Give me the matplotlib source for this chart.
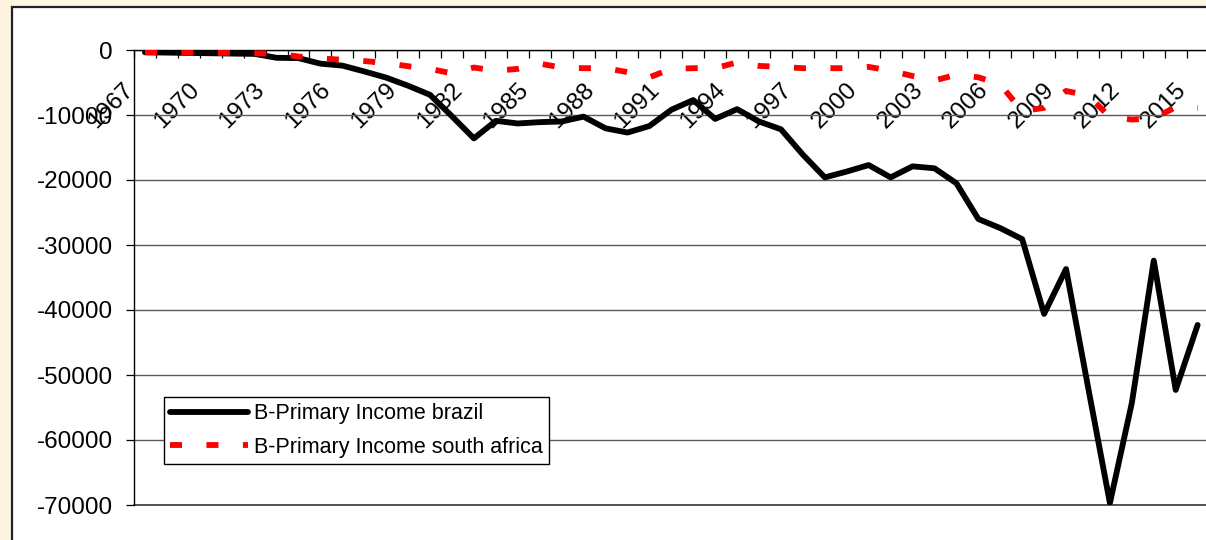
import matplotlib
matplotlib.use("Agg")
import matplotlib.pyplot as plt
from matplotlib.patches import Rectangle
from matplotlib.transforms import ScaledTranslation
import numpy as np

plt.rcParams['font.family'] = ['Liberation Sans', 'DejaVu Sans']

# ---------------- data ----------------
years = list(range(1967, 2016))

brazil = [
    -350, -400, -450, -500, -550, -600, -1200, -1250, -2100, -2400,
    -3300, -4250, -5500, -6900, -10200, -13600, -10900, -11300, -11100, -11000,
    -10250, -12050, -12700, -11700, -9200, -7700, -10600, -9100, -11000, -12200,
    -16100, -19600, -18700, -17700, -19600, -17900, -18200, -20500, -26000, -27400,
    -29100, -40600, -33700, -51800, -69700, -54300, -32400, -52300, -42300,
]

south_africa = [
    -350, -400, -400, -450, -450, -500, -550, -1000, -1300, -1500,
    -1700, -2000, -2500, -2900, -3600, -2700, -3200, -2900, -2100, -2700,
    -2800, -2800, -3400, -4200, -2900, -2800, -2800, -1900, -2450, -2600,
    -2800, -2800, -2800, -2600, -3200, -4000, -4700, -3800, -4200, -5300,
    -9400, -8900, -6300, -7000, -10300, -10700, -10500, -8800, -8900,
]

y_ticks = [0, -10000, -20000, -30000, -40000, -50000, -60000, -70000]
label_years = years[::3]

series_names = ['B-Primary Income brazil', 'B-Primary Income south africa']

# ---------------- figure ----------------
W, H = 1206, 540
fig = plt.figure(figsize=(W / 100, H / 100), dpi=100)
fig.patch.set_facecolor('#fdf5e2')

# white chart area with dark border (extends past right/bottom edges)
chart_rect = Rectangle((11.5 / W, -0.05), 1.2, (1 - 7.3 / H) + 0.05,
                       transform=fig.transFigure, facecolor='white',
                       edgecolor='#222222', lw=1.6, zorder=-10)
fig.add_artist(chart_rect)

ax = fig.add_axes([134 / W, 1 - 505 / H, (1208.6 - 134) / W, (505 - 50) / H])
ax.set_zorder(5)
ax.patch.set_alpha(0)

LW = 4.2
x = np.arange(len(years))
ax.plot(x, brazil, color='black', lw=LW, solid_joinstyle='round',
        solid_capstyle='round', label=series_names[0], zorder=3)
ax.plot(x, south_africa, color='#ff0000', lw=LW, dashes=(8.64 / LW, 17.6 / LW),
        dash_capstyle='butt', dash_joinstyle='round',
        label=series_names[1], zorder=4)

ax.set_xlim(-0.5, len(years) - 0.5)
ax.set_ylim(-70000, 0)

ax.set_yticks(y_ticks)
ax.set_yticklabels([str(v) for v in y_ticks])
ax.yaxis.grid(True, color='#5a5a5a', lw=1.0)
ax.axhline(y_ticks[-1], color='#3a3a3a', lw=1.2, clip_on=False, zorder=1)
ax.set_axisbelow(True)

ax.spines['bottom'].set_position(('data', 0))
ax.spines['bottom'].set_color('black')
ax.spines['bottom'].set_linewidth(1.0)
ax.spines['left'].set_color('black')
ax.spines['left'].set_linewidth(1.0)
ax.spines['top'].set_visible(False)
ax.spines['right'].set_visible(False)

ax.set_xticks([years.index(yy) for yy in label_years])
ax.set_xticklabels([str(yy) for yy in label_years])
ax.set_xticks(np.arange(len(years) + 1) - 0.5, minor=True)

ax.tick_params(axis='x', which='major', length=0, pad=29.5, labelsize=17.5)
ax.tick_params(axis='x', which='minor', length=5.8, width=0.9,
               direction='out', color='black')
ax.tick_params(axis='y', which='major', length=5.8, width=0.9,
               direction='out', color='black', pad=9.4, labelsize=17.5)

shift = ScaledTranslation(-10.8 / 100, 0, fig.dpi_scale_trans)
for lab in ax.get_xticklabels():
    lab.set_rotation(45)
    lab.set_ha('right')
    lab.set_va('baseline')
    lab.set_rotation_mode('anchor')
    lab.set_transform(lab.get_transform() + shift)

leg = ax.legend(loc='upper left', bbox_to_anchor=(164 / W, 1 - 397 / H),
                bbox_transform=fig.transFigure, borderaxespad=0,
                frameon=True, fancybox=False, edgecolor='black',
                framealpha=1, prop={'size': 15.5},
                handlelength=3.58, handletextpad=0.28, borderpad=0.3,
                labelspacing=0.58)
leg.get_frame().set_linewidth(1.0)

fig.savefig('out.png', dpi=100, facecolor=fig.get_facecolor())
